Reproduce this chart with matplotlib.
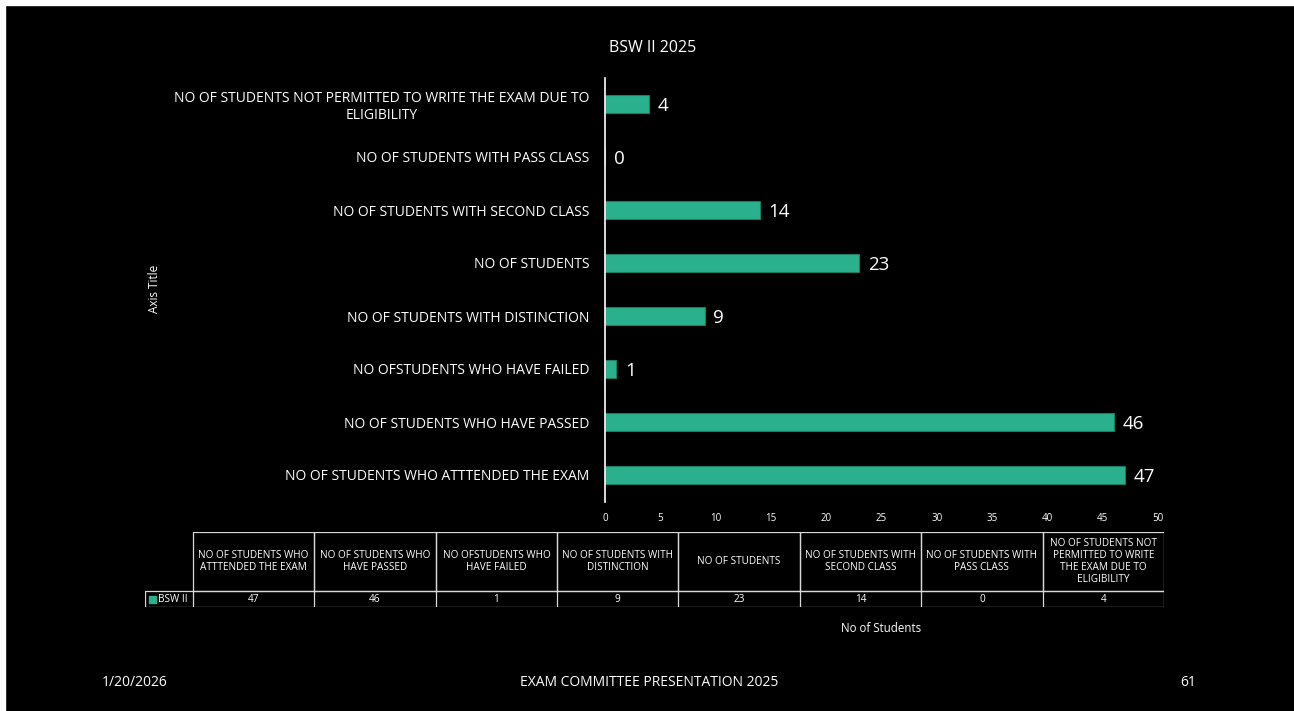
import matplotlib.pyplot as plt
import numpy as np

# chart data (bottom to top)
categories = [
    "NO OF STUDENTS WHO ATTTENDED THE EXAM",
    "NO OF STUDENTS WHO HAVE PASSED",
    "NO OFSTUDENTS WHO HAVE FAILED",
    "NO OF STUDENTS WITH DISTINCTION",
    "NO OF STUDENTS",
    "NO OF STUDENTS WITH SECOND CLASS",
    "NO OF STUDENTS WITH PASS CLASS",
    "NO OF STUDENTS NOT PERMITTED TO WRITE THE EXAM DUE TO\nELIGIBILITY",
]
values = [47, 46, 1, 9, 23, 14, 0, 4]
table_headers = [
    "NO OF STUDENTS WHO\nATTTENDED THE EXAM",
    "NO OF STUDENTS WHO\nHAVE PASSED",
    "NO OFSTUDENTS WHO\nHAVE FAILED",
    "NO OF STUDENTS WITH\nDISTINCTION",
    "NO OF STUDENTS",
    "NO OF STUDENTS WITH\nSECOND CLASS",
    "NO OF STUDENTS WITH\nPASS CLASS",
    "NO OF STUDENTS NOT\nPERMITTED TO WRITE\nTHE EXAM DUE TO\nELIGIBILITY",
]
series_name = "BSW II"
xticks = np.arange(0, 55, 5)

bar_color = "#2BB08E"
fg = "white"
plt.rcParams['font.family'] = ['Open Sans', 'DejaVu Sans']

W, H = 1294, 711
fig = plt.figure(figsize=(W / 100, H / 100), dpi=100, facecolor="black")

# main bar chart
ax = fig.add_axes([605 / W, 1 - 501.5 / H, (1158 - 605) / W, (501.5 - 77.5) / H])
ax.set_facecolor("black")
y = np.arange(len(categories))
ax.barh(y, values, height=0.35, color=bar_color, edgecolor="#1d7d64", linewidth=0.8)
for yi, v in zip(y, values):
    ax.text(v + 0.8, yi - 0.03, str(v), va="center", ha="left", color=fg, fontsize=13.5)
ax.set_xlim(0, 50)
ax.set_ylim(-0.5, len(categories) - 0.5)
ax.set_yticks(y)
ax.set_yticklabels(categories, fontsize=10, color=fg, linespacing=1.2)
for lab in ax.get_yticklabels():
    lab.set_multialignment("center")
ax.set_xticks(xticks)
ax.set_xticklabels([str(t) for t in xticks], fontsize=7, color=fg)
ax.tick_params(axis="x", length=0, pad=8)
ax.tick_params(axis="y", length=0, pad=11)
for s in ["top", "right", "bottom"]:
    ax.spines[s].set_visible(False)
ax.spines["left"].set_color(fg)
ax.spines["left"].set_linewidth(1.2)

fig.text(653 / W, 1 - 48 / H, "BSW II 2025", ha="center", va="center", color=fg, fontsize=11.5)
fig.text(155 / W, 1 - 289 / H, "Axis Title", ha="center", va="center", color=fg, fontsize=8.5, rotation=90)
fig.text(881 / W, 1 - 628 / H, "No of Students", ha="center", va="center", color=fg, fontsize=8.3)

# data table under the chart
n = len(values)
lbl_w = 48 / 121.4
tax = fig.add_axes([145 / W, 1 - 607 / H, (1164 - 145) / W, (607 - 532) / H])
tax.set_xlim(-lbl_w, n)
tax.set_ylim(0, 75)
tax.axis("off")
row_h = 16
border = dict(color="#d9d9d9", linewidth=0.9)
# header cells
for i, hdr in enumerate(table_headers):
    tax.plot([i, i + 1, i + 1, i, i], [row_h, row_h, 75, 75, row_h], **border)
    tax.text(i + 0.5, (75 + row_h) / 2, hdr, ha="center", va="center", color=fg,
             fontsize=7.2, linespacing=1.15)
# data row
tax.plot([-lbl_w, n, n, -lbl_w, -lbl_w], [0, 0, row_h, row_h, 0], **border)
for i, v in enumerate(values):
    tax.plot([i, i], [0, row_h], **border)
    tax.text(i + 0.5, row_h / 2, str(v), ha="center", va="center", color=fg, fontsize=7.2)
tax.add_patch(plt.Rectangle((-lbl_w + 0.03, 4.5), 0.06, 7, color=bar_color))
tax.text(-lbl_w + 0.11, row_h / 2, series_name, ha="left", va="center", color=fg, fontsize=7.2)

# slide footer
fig.text(135 / W, 1 - 682 / H, "1/20/2026", ha="center", va="center", color=fg, fontsize=10)
fig.text(649 / W, 1 - 682 / H, "EXAM COMMITTEE PRESENTATION 2025", ha="center", va="center", color=fg, fontsize=10)
fig.text(1188 / W, 1 - 682 / H, "61", ha="center", va="center", color=fg, fontsize=10)

# thin white slide edge on top/left
fig.add_artist(plt.Rectangle((0, 1 - 5 / H), 1, 5 / H, transform=fig.transFigure, color="white"))
fig.add_artist(plt.Rectangle((0, 0), 5 / W, 1, transform=fig.transFigure, color="white"))

fig.savefig("out.png", dpi=100, facecolor="black")
